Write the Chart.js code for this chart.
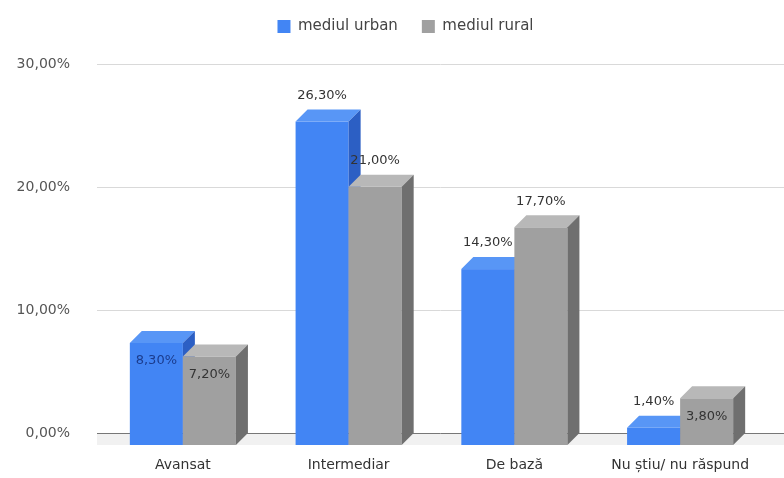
<!DOCTYPE html>
<html><head><meta charset="utf-8">
<script src="https://cdn.jsdelivr.net/npm/chart.js@4.4.0/dist/chart.umd.min.js"></script>
<style>html,body{margin:0;padding:0;background:#fff}#wrap{width:784px;height:478px;position:relative}</style>
</head><body><div id="wrap"><canvas id="c"></canvas></div>
<script>
const categories = ['Avansat', 'Intermediar', 'De bază', 'Nu știu/ nu răspund'];
const seriesNames = ['mediul urban', 'mediul rural'];
const urbanValues = [8.3, 26.3, 14.3, 1.4];
const ruralValues = [7.2, 21.0, 17.7, 3.8];
const yTicks = [0, 10, 20, 30];
// label placement per bar (style): true = inside the bar
const urbanLabelInside = [true, false, false, false];
const ruralLabelInside = [true, false, false, true];

const DX = 12, DY = 12;
const FONT = '"DejaVu Sans", sans-serif';
const fmt = v => v.toFixed(2).replace('.', ',') + '%';

const palette = [
  {front: '#4285f4', top: '#5896f6', side: '#2c5fc4', inside: '#1b3c8e'},
  {front: '#a0a0a0', top: '#b8b8b8', side: '#6f6f6f', inside: '#333333'}
];
const insideFlags = [urbanLabelInside, ruralLabelInside];

const legendShift = {
  id: 'legendShift',
  afterLayout(chart) {
    const lg = chart.legend;
    if (!lg) return;
    lg.left += 24; lg.right += 24;
    lg.top -= 20; lg.bottom -= 20;
  }
};

const bars3d = {
  id: 'bars3d',
  beforeDatasetsDraw(chart) {
    const ctx = chart.ctx;
    const y = chart.scales.y;
    const left = chart.chartArea.left - 3, right = 784;
    const zero = y.getPixelForValue(0);
    ctx.save();
    ctx.fillStyle = '#f1f1f1';
    ctx.fillRect(left, zero, right - left, DY);
    yTicks.forEach(t => {
      const py = Math.round(y.getPixelForValue(t)) + 0.5;
      ctx.strokeStyle = t === 0 ? '#777777' : '#d9d9d9';
      ctx.lineWidth = 1;
      ctx.beginPath(); ctx.moveTo(left, py); ctx.lineTo(right, py); ctx.stroke();
    });
    const metas = chart.data.datasets.map((d, i) => chart.getDatasetMeta(i));
    const n = chart.data.labels.length;
    for (let i = 0; i < n; i++) {
      metas.forEach((meta, d) => {
        const el = meta.data[i];
        const c = palette[d];
        const x0 = el.x - el.width / 2, x1 = el.x + el.width / 2;
        const top = el.y + DY, base = el.base + DY;
        ctx.fillStyle = c.front;
        ctx.fillRect(x0, top, x1 - x0, base - top);
        ctx.fillStyle = c.top;
        ctx.beginPath();
        ctx.moveTo(x0, top); ctx.lineTo(x1, top); ctx.lineTo(x1 + DX, top - DY); ctx.lineTo(x0 + DX, top - DY);
        ctx.closePath(); ctx.fill();
        ctx.fillStyle = c.side;
        ctx.beginPath();
        ctx.moveTo(x1, top); ctx.lineTo(x1 + DX, top - DY); ctx.lineTo(x1 + DX, base - DY); ctx.lineTo(x1, base);
        ctx.closePath(); ctx.fill();
      });
    }
    ctx.restore();
    return false;
  },
  afterDraw(chart) {
    const ctx = chart.ctx;
    ctx.save();
    ctx.font = '13px ' + FONT;
    ctx.textAlign = 'center';
    ctx.textBaseline = 'middle';
    chart.data.datasets.forEach((ds, d) => {
      const meta = chart.getDatasetMeta(d);
      meta.data.forEach((el, i) => {
        const inside = insideFlags[d][i];
        const ty = inside ? el.y + DY + 18 : el.y - 14;
        ctx.fillStyle = inside ? palette[d].inside : '#333333';
        ctx.fillText(fmt(ds.data[i]), el.x, ty);
      });
    });
    ctx.restore();
  }
};

new Chart(document.getElementById('c'), {
  type: 'bar',
  data: {
    labels: categories,
    datasets: [
      {label: seriesNames[0], data: urbanValues, backgroundColor: palette[0].front},
      {label: seriesNames[1], data: ruralValues, backgroundColor: palette[1].front}
    ]
  },
  options: {
    responsive: true,
    maintainAspectRatio: false,
    animation: false,
    devicePixelRatio: 1,
    categoryPercentage: 0.64,
    barPercentage: 1.0,
    layout: {padding: {left: 0, right: 21, top: 15, bottom: 3}},
    plugins: {
      legend: {
        position: 'top',
        labels: {
          boxWidth: 13, boxHeight: 13, padding: 24,
          color: '#444444',
          font: {family: FONT, size: 15}
        }
      },
      tooltip: {enabled: false}
    },
    scales: {
      x: {
        afterFit(s) { s.height = 42; },
        grid: {display: false, drawTicks: false},
        border: {display: false},
        ticks: {color: '#333333', padding: 24, font: {family: FONT, size: 14}, maxRotation: 0, autoSkip: false}
      },
      y: {
        min: 0, max: 30,
        afterFit(s) { s.width = 100; },
        afterBuildTicks(s) { s.ticks = yTicks.map(v => ({value: v})); },
        grid: {display: false, drawTicks: false},
        border: {display: false},
        ticks: {
          color: '#555555', padding: 30, font: {family: FONT, size: 14},
          callback: v => fmt(v)
        }
      }
    }
  },
  plugins: [legendShift, bars3d]
});
</script></body></html>
